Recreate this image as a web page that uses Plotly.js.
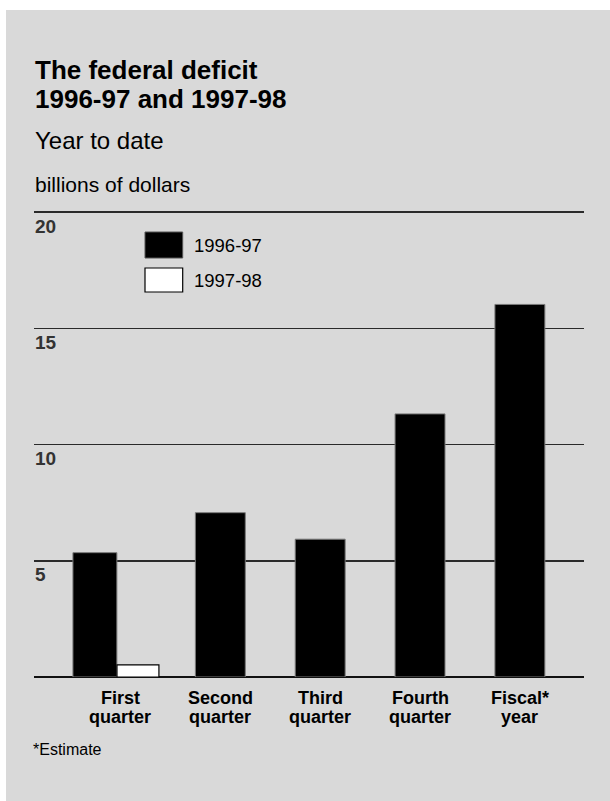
<!DOCTYPE html>
<html>
<head>
<meta charset="utf-8">
<script src="https://cdn.plot.ly/plotly-3.0.1.min.js"></script>
<style>
  html, body { margin: 0; padding: 0; background: #ffffff; }
  #chart { position: absolute; left: 6px; top: 10px; width: 604px; height: 791px; }
</style>
</head>
<body>
<div id="chart"></div>
<script>
// ---- Data ----
const categories = ["First quarter", "Second quarter", "Third quarter", "Fourth quarter", "Fiscal year"];
const catLine1 = ["First", "Second", "Third", "Fourth", "Fiscal*"];
const catLine2 = ["quarter", "quarter", "quarter", "quarter", "year"];
const seriesNames = ["1996-97", "1997-98"];
const values9697 = [5.35, 7.07, 5.93, 11.32, 16.03];
const values9798 = [0.52, null, null, null, null];
const yTickVals = [5, 10, 15, 20];
const yTickText = ["5", "10", "15", "20"];

const FONT = "Liberation Sans, Arial, Helvetica, sans-serif";

// bar geometry (style)
const w1 = [0.44, 0.5, 0.5, 0.5, 0.5];
const o1 = [-0.476, -0.25, -0.25, -0.25, -0.25];
const w2 = [0.42, 0.42, 0.42, 0.42, 0.42];
const o2 = [-0.035, -0.035, -0.035, -0.035, -0.035];

const traces = [
  {
    type: "bar", name: seriesNames[0], x: categories, y: values9697,
    width: w1, offset: o1,
    marker: { color: "#000000", line: { color: "#7a7a7a", width: 1 } },
    showlegend: false, hoverinfo: "x+y"
  },
  {
    type: "bar", name: seriesNames[1], x: categories, y: values9798,
    width: w2, offset: o2,
    marker: { color: "#ffffff", line: { color: "#000000", width: 1.2 } },
    showlegend: false, hoverinfo: "x+y"
  }
];

// page px -> paper helpers (plot area: x 34..584, y 211..677 in page)
const px = x => (x - 34) / 550;
const py = y => (677 - y) / 466;

const annotations = [];
function addText(text, x, y, size, bold, extra) {
  annotations.push(Object.assign({
    text: bold ? "<b>" + text + "</b>" : text,
    xref: "paper", yref: "paper", x: x, y: y,
    xanchor: "left", yanchor: "middle", showarrow: false,
    font: { family: FONT, size: size, color: "#000000" }
  }, extra || {}));
}
addText("The federal deficit", px(33), py(69.6), 26, true);
addText("1996-97 and 1997-98", px(33), py(99.2), 26, true);
addText("Year to date", px(33), py(140.6), 24, false);
addText("billions of dollars", px(33), py(184.5), 21, false);
addText("*Estimate", px(31), py(749.4), 16, false);

// legend labels
addText(seriesNames[0], px(192), py(245.1), 18.5, false);
addText(seriesNames[1], px(192), py(280.1), 18.5, false);

// category labels (two lines)
categories.forEach((c, i) => {
  annotations.push({
    text: "<b>" + catLine1[i] + "</b>", xref: "x", yref: "paper", x: c, y: py(698),
    xanchor: "center", yanchor: "middle", showarrow: false,
    font: { family: FONT, size: 18, color: "#000000" }
  });
  annotations.push({
    text: "<b>" + catLine2[i] + "</b>", xref: "x", yref: "paper", x: c, y: py(716.7),
    xanchor: "center", yanchor: "middle", showarrow: false,
    font: { family: FONT, size: 18, color: "#000000" }
  });
});

// y tick labels below gridlines
yTickVals.forEach((v, i) => {
  annotations.push({
    text: "<b>" + yTickText[i] + "</b>", xref: "paper", yref: "y", x: px(33), y: v,
    xanchor: "left", yanchor: "middle", yshift: -14, showarrow: false,
    font: { family: FONT, size: 19, color: "#333333" }
  });
});

const shapes = [
  { type: "rect", xref: "paper", yref: "paper", x0: px(145), x1: px(182.7), y0: py(258), y1: py(232),
    fillcolor: "#000000", line: { color: "#555555", width: 1 } },
  { type: "rect", xref: "paper", yref: "paper", x0: px(145), x1: px(182.7), y0: py(292), y1: py(268),
    fillcolor: "#ffffff", line: { color: "#000000", width: 1.2 } }
];

const layout = {
  width: 604, height: 791,
  margin: { l: 28, r: 26, t: 201, b: 124, pad: 0 },
  paper_bgcolor: "#d9d9d9", plot_bgcolor: "#d9d9d9",
  barmode: "overlay",
  showlegend: false,
  xaxis: {
    type: "category", range: [-0.866, 4.642],
    showticklabels: false, ticks: "", showgrid: false, zeroline: false, showline: false,
    fixedrange: true
  },
  yaxis: {
    range: [0, 20.05], tickvals: yTickVals, showticklabels: false, ticks: "",
    showgrid: true, gridcolor: "#2a2a2a", gridwidth: 1.6,
    zeroline: true, zerolinecolor: "#111111", zerolinewidth: 2,
    showline: false, fixedrange: true
  },
  font: { family: FONT },
  annotations: annotations,
  shapes: shapes
};

Plotly.newPlot("chart", traces, layout, { displayModeBar: false, staticPlot: true });
</script>
</body>
</html>
